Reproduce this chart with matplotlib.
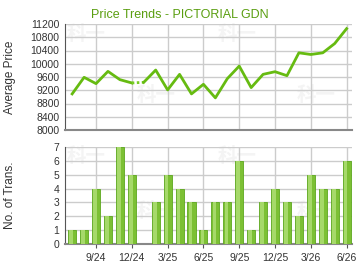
import matplotlib
matplotlib.use("Agg")
import matplotlib.pyplot as plt
import numpy as np

plt.rcParams['font.family'] = ['Liberation Sans', 'DejaVu Sans']

months = ["7/24", "8/24", "9/24", "10/24", "11/24", "12/24", "1/25", "2/25",
          "3/25", "4/25", "5/25", "6/25", "7/25", "8/25", "9/25", "10/25",
          "11/25", "12/25", "1/26", "2/26", "3/26", "4/26", "5/26", "6/26"]
avg_price = [9090, 9590, 9400, 9770, 9520, 9420, 9440, 9810, 9210, 9680,
             9090, 9380, 8970, 9550, 9930, 9280, 9680, 9760, 9640, 10330,
             10280, 10330, 10610, 11060]
trans = [1, 1, 4, 2, 7, 5, 0, 3, 5, 4, 3, 1, 3, 3, 6, 1, 3, 4, 3, 2, 5, 4, 4, 6]
gap_idx = 5  # dotted segment between month 5 and 6 (no transactions)
tick_labels = ["9/24", "12/24", "3/25", "6/25", "9/25", "12/25", "3/26", "6/26"]

x = np.arange(len(months))
tick_pos = [months.index(t) for t in tick_labels]

green_line = '#66bb11'
grid_c = '#cccccc'
text_c = '#333333'

fig = plt.figure(figsize=(3.6, 2.7), dpi=100)
ax1 = fig.add_axes([65 / 360, 1 - 130 / 270, 287 / 360, 106 / 270])
ax2 = fig.add_axes([65 / 360, 1 - 244 / 270, 287 / 360, 97 / 270])


def style(ax):
    for s in ['top', 'right']:
        ax.spines[s].set_visible(False)
    ax.spines['left'].set_color('#555555')
    ax.spines['bottom'].set_color('#888888')
    ax.spines['bottom'].set_linewidth(1.5)
    ax.set_xlim(-0.6, 23.45)
    ax.set_xticks(tick_pos)
    ax.grid(True, color=grid_c, linewidth=1)
    ax.set_axisbelow(True)
    ax.tick_params(axis='y', length=0, labelsize=7.5, labelcolor=text_c, pad=4)
    ax.tick_params(axis='x', labelsize=7.5, labelcolor=text_c, length=3, color='#555555')
    # faint watermark
    marks = [(0.075, 0.9), (0.6, 0.9), (0.317, 0.33), (0.875, 0.33)]
    for mx, my in marks:
        ax.text(mx, my, "科一", transform=ax.transAxes, ha='center', va='center',
                fontsize=14, fontweight='bold', color='#f4f4f4',
                family=['Noto Sans CJK SC', 'DejaVu Sans'], zorder=0)


style(ax1)
ax1.set_ylim(8000, 11200)
ax1.set_yticks(np.arange(8000, 11201, 400))
ax1.set_xticklabels([])
ax1.tick_params(axis='x', length=0)
ax1.plot(x[:gap_idx + 1], avg_price[:gap_idx + 1], color=green_line, lw=2, zorder=3)
ax1.plot(x[gap_idx:gap_idx + 2], avg_price[gap_idx:gap_idx + 2], color='#77cc22',
         lw=2, ls=(0, (0.9, 0.9)), zorder=3)
ax1.plot(x[gap_idx + 1:], avg_price[gap_idx + 1:], color=green_line, lw=2, zorder=3)
ax1.set_ylabel("Average Price", fontsize=8.5, color=text_c)
ax1.yaxis.set_label_coords(-0.17, 0.5)

style(ax2)
ax2.set_ylim(0, 7)
ax2.set_yticks(range(0, 8))
ax2.set_xticklabels(tick_labels)
ax2.bar(x, trans, width=0.68, color='#7cc034', edgecolor='#5da81e', linewidth=0.6, zorder=3)
ax2.bar(x - 0.08, trans, width=0.3, color='#a6d96a', linewidth=0, zorder=4)
ax2.set_ylabel("No. of Trans.", fontsize=8.5, color=text_c)
ax2.yaxis.set_label_coords(-0.17, 0.5)

fig.text(0.5, 1 - 15 / 270, "Price Trends - PICTORIAL GDN", ha='center', va='center',
         fontsize=9, color='#5a9e10')

fig.savefig("out.png", dpi=100)
